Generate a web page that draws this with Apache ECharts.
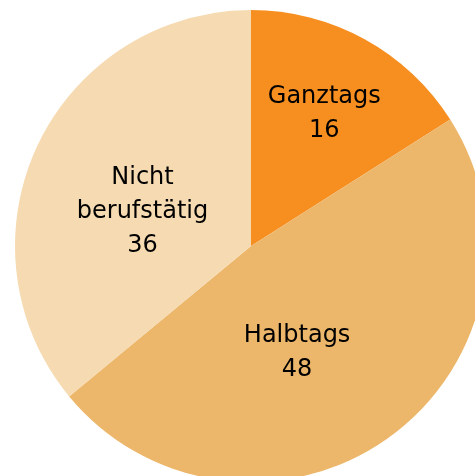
<!DOCTYPE html>
<html>
<head>
<meta charset="utf-8">
<script src="https://cdn.jsdelivr.net/npm/echarts@6/dist/echarts.min.js"></script>
<style>
html,body{margin:0;padding:0;background:#fff;}
#chart{width:475px;height:476px;}
</style>
</head>
<body>
<div id="chart"></div>
<script>
const categories = ['Ganztags', 'Halbtags', 'Nicht berufstätig'];
const values = [16, 48, 36];

const colors = ['#F68E20', '#ECB76A', '#F6DAB1'];
const labelShift = [[15, -26], [-25, 9], [1, 17]];

const chart = echarts.init(document.getElementById('chart'), null, {renderer: 'canvas'});
chart.setOption({
  animation: false,
  series: [{
    type: 'pie',
    center: [251, 246],
    radius: 236,
    startAngle: 90,
    clockwise: true,
    silent: true,
    itemStyle: {borderWidth: 0},
    label: {
      show: true,
      position: 'inside',
      formatter: p => p.name.replace(' ', '\n') + '\n' + p.value,
      color: '#000',
      fontFamily: 'DejaVu Sans',
      fontSize: 24,
      lineHeight: 34,
      align: 'center'
    },
    labelLine: {show: false},
    labelLayout: p => ({dx: labelShift[p.dataIndex][0], dy: labelShift[p.dataIndex][1]}),
    data: categories.map((c, i) => ({name: c, value: values[i], itemStyle: {color: colors[i]}}))
  }]
});
</script>
</body>
</html>
